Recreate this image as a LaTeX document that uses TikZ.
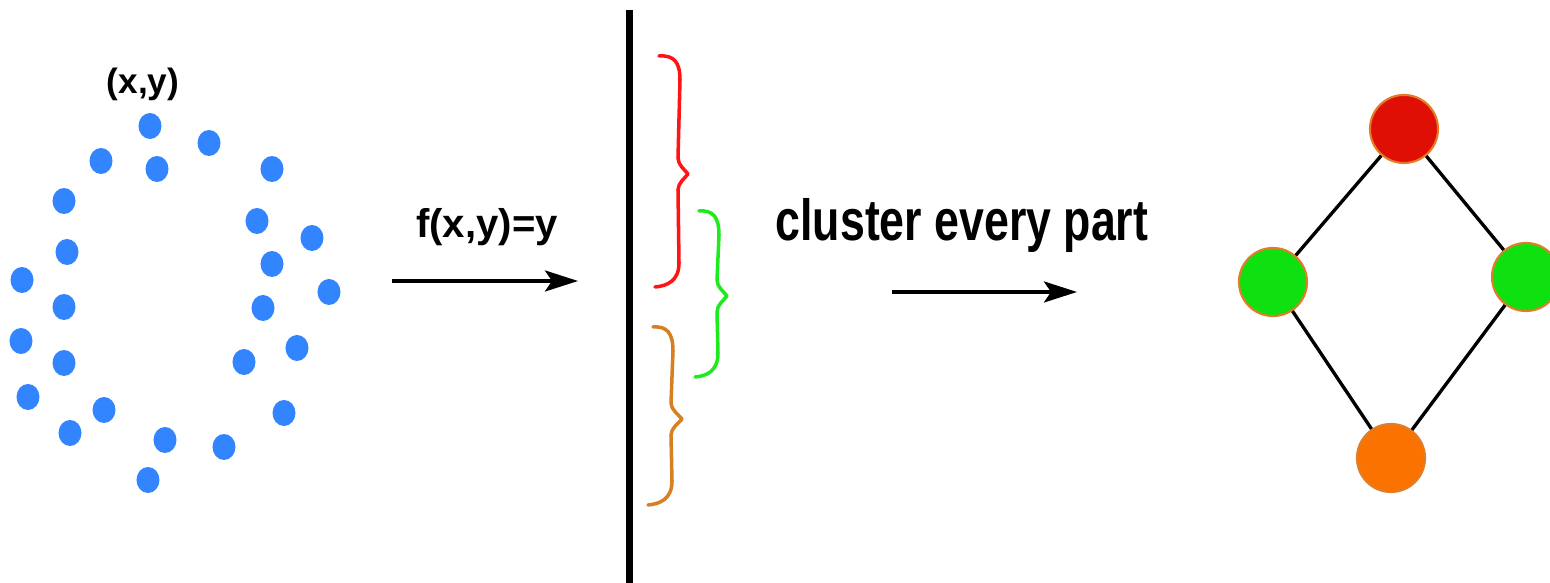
\documentclass[tikz,border=0pt]{standalone}
\usepackage{fontspec}
\setmainfont{Liberation Sans}
\newfontfamily\condfont[FakeStretch=0.77]{Liberation Sans}
\usetikzlibrary{arrows.meta,shapes.geometric}
\definecolor{dotblue}{RGB}{51,133,255}
\definecolor{bred}{RGB}{255,20,20}
\definecolor{bgreen}{RGB}{30,235,30}
\definecolor{borange}{RGB}{215,128,35}
\definecolor{nred}{RGB}{224,15,5}
\definecolor{ngreen}{RGB}{15,224,15}
\definecolor{norange}{RGB}{250,115,0}
\definecolor{nborder}{RGB}{225,125,40}
\tikzset{
  dot/.style={ellipse, fill=dotblue, draw=none, inner sep=0pt, minimum width=0.23cm, minimum height=0.26cm},
  gnode/.style={circle, draw=nborder, line width=0.6pt, inner sep=0pt, minimum size=0.68cm},
  gedge/.style={line width=0.95pt, black},
  maparrow/.style={line width=1pt, -{Stealth[length=0.33cm, width=0.21cm, inset=0.07cm]}},
  bracestyle/.style={line width=1pt, line cap=round, line join=round},
  divider/.style={line width=2pt}
}
\newcommand{\curlybr}[8]{%
  \draw[bracestyle, #1] (#2,#3) .. controls ({#4-6},{#3-1}) and (#4,{#3+6}) .. (#4,{#3+24})
    -- ({#4-2},{#6-16}) .. controls ({#4-2},{#6-9}) and ({#5-3},{#6-4}) .. (#5,#6)
    .. controls ({#5-3},{#6+4}) and ({#4-2},{#6+9}) .. ({#4-2},{#6+16})
    -- ({#4-1},{#8-24}) .. controls ({#4-1},{#8-6}) and ({#7+12},{#8-1}) .. (#7,#8);}
\begin{document}
\begin{tikzpicture}[x=0.01cm, y=-0.01cm]
\useasboundingbox (0,0) rectangle (1550,583);
\clip (0,0) rectangle (1550,583);
% points
\node[anchor=base, inner sep=0pt, font=\bfseries\fontsize{10}{12}\selectfont] (xy) at (143,94) {(x,y)};
\node[dot] (d1) at (150,126) {};
\node[dot] (d2) at (209,143) {};
\node[dot] (d3) at (101,161) {};
\node[dot] (d4) at (157,169) {};
\node[dot] (d5) at (272,169) {};
\node[dot] (d6) at (64,201) {};
\node[dot] (d7) at (257,221) {};
\node[dot] (d8) at (312,238) {};
\node[dot] (d9) at (67,252) {};
\node[dot] (d10) at (272,264) {};
\node[dot] (d11) at (22,280) {};
\node[dot] (d12) at (329,292) {};
\node[dot] (d13) at (64,307) {};
\node[dot] (d14) at (263,308) {};
\node[dot] (d15) at (21,341) {};
\node[dot] (d16) at (297,348) {};
\node[dot] (d17) at (64,363) {};
\node[dot] (d18) at (244,362) {};
\node[dot] (d19) at (28,397) {};
\node[dot] (d20) at (104,410) {};
\node[dot] (d21) at (284,413) {};
\node[dot] (d22) at (70,433) {};
\node[dot] (d23) at (165,440) {};
\node[dot] (d24) at (224,447) {};
\node[dot] (d25) at (148,480) {};
% first mapping
\node[anchor=base, inner sep=0pt, font=\bfseries\fontsize{11.4}{13}\selectfont] (fxy) at (487,238) {f(x,y)=y};
\coordinate (a1s) at (392,281);
\coordinate (a1e) at (578,281);
\draw[maparrow] (a1s) -- (a1e);
% divider
\coordinate (vt) at (629.5,10);
\coordinate (vb) at (629.5,590);
\draw[divider] (vt) -- (vb);
% braces
\curlybr{bred}{659}{56}{680}{688}{174}{655}{287}
\curlybr{bgreen}{699}{211}{719}{727}{296}{695}{377}
\curlybr{borange}{653}{327}{673}{682}{419}{648}{505}
% second mapping
\node[anchor=base west, inner sep=0pt, font=\condfont\bfseries\fontsize{16.5}{19}\selectfont] (clu) at (775,241) {cluster every part};
\coordinate (a2s) at (892,292);
\coordinate (a2e) at (1077,292);
\draw[maparrow] (a2s) -- (a2e);
% graph
\node[gnode, fill=nred] (n1) at (1404,129) {};
\node[gnode, fill=ngreen] (n2) at (1273,282) {};
\node[gnode, fill=ngreen] (n3) at (1526,277) {};
\node[gnode, fill=norange] (n4) at (1391,458) {};
\draw[gedge] (n1) -- (n2);
\draw[gedge] (n1) -- (n3);
\draw[gedge] (n2) -- (n4);
\draw[gedge] (n3) -- (n4);
\end{tikzpicture}
\end{document}
